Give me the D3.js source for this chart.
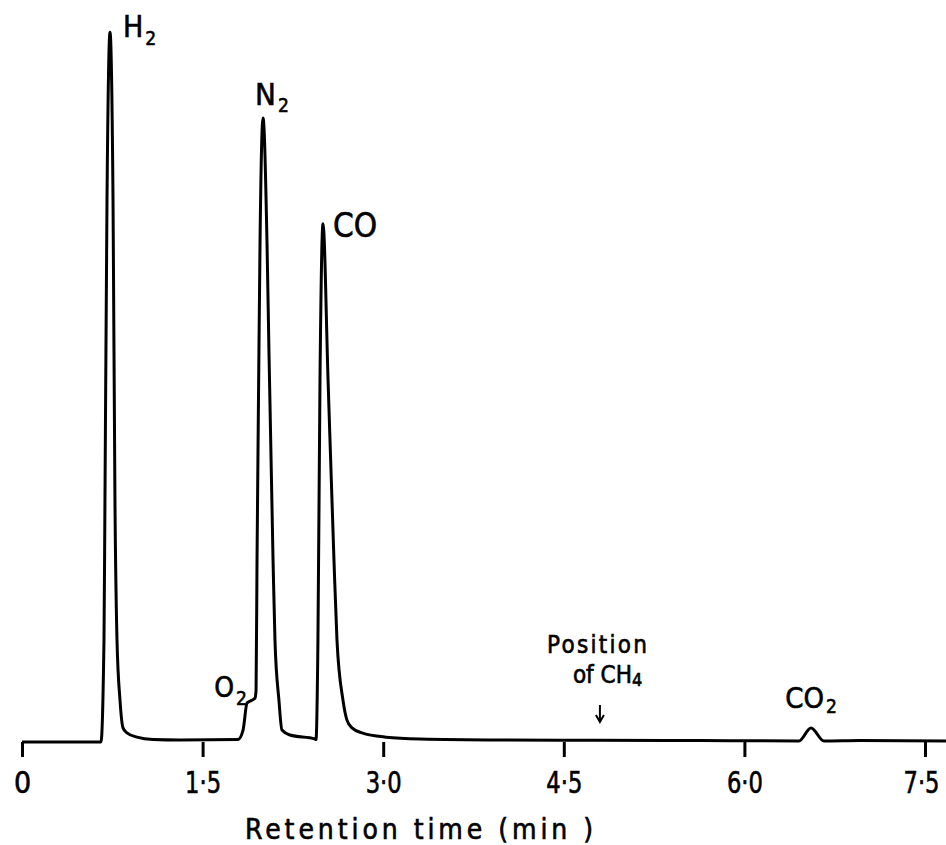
<!DOCTYPE html>
<html>
<head>
<meta charset="utf-8">
<script src="https://cdn.jsdelivr.net/npm/d3@7"></script>
<style>
  html, body { margin: 0; padding: 0; background: #fff; }
  svg { display: block; }
  text { font-family: "DejaVu Sans Condensed", "DejaVu Sans", sans-serif; fill: #000; stroke: #000; stroke-width: 0.6px; }
</style>
</head>
<body>
<div id="chart"></div>
<script>
// ------------------
// Data
// ------------------
const retentionTime = [0.000, 0.648, 0.656, 0.681, 0.689, 0.706, 0.731, 0.756, 0.772, 0.789,
  0.814, 0.839, 0.872, 0.955, 1.088, 1.312, 1.794, 1.836, 1.869, 1.910,
  1.935, 1.944, 1.952, 1.968, 1.977, 2.002, 2.035, 2.051, 2.085, 2.101,
  2.134, 2.159, 2.226, 2.434, 2.442, 2.458, 2.475, 2.500, 2.542, 2.591,
  2.616, 2.666, 2.699, 2.741, 2.824, 3.023, 3.306, 3.970, 5.631, 6.453,
  6.553, 6.661, 6.960, 7.674];
const detectorSignal = [-0.28, -0.28, -0.28, 14.1, 33.8, 76.1, 99.7, 76.1, 33.8, 14.1,
  5.6, 1.7, 1.0, 0.4, 0.07, 0, 0.07, 1.4, 5.2, 5.6,
  5.9, 7.0, 25.4, 54.9, 70.0, 87.6, 70.0, 54.9, 25.4, 14.1,
  5.6, 1.4, 0.7, 0.14, 0.07, 14.1, 50.7, 72.7, 50.7, 25.4,
  14.1, 5.6, 2.8, 1.7, 1.0, 0.4, 0.14, 0, -0.07, -0.14,
  1.7, -0.14, -0.07, -0.14];

const xTicks = [0, 1.5, 3.0, 4.5, 6.0, 7.5];

// peak labels: main text, subscript, retention time of the apex
const peakNames = ["H", "N", "CO", "O", "CO"];
const peakSubs = ["2", "2", "", "2", "2"];
const peakTimes = [0.731, 2.002, 2.500, 1.935, 6.553];

const ch4Time = 4.80;
const axisTitle = "Retention time (min )";

// ------------------
// Layout
// ------------------
const W = 946, H = 845;
const x = d3.scaleLinear().domain([0, 7.5]).range([22, 925]);
const y = d3.scaleLinear().domain([0, 100]).range([740, 30]);

const svg = d3.select("#chart").append("svg")
  .attr("width", W)
  .attr("height", H);

const points = retentionTime.map((t, i) => ({ t, s: detectorSignal[i] }));

// trace
const line = d3.line()
  .x(d => x(d.t))
  .y(d => y(d.s))
  .curve(d3.curveMonotoneX);

svg.append("path")
  .datum(points)
  .attr("d", line)
  .attr("fill", "none")
  .attr("stroke", "#000")
  .attr("stroke-width", 3)
  .attr("stroke-linejoin", "round");

// axis (ticks hang from the baseline, no domain line)
const fmt = d => d === 0 ? "0" : d.toFixed(1).replace(".", "\u00b7");
const axis = svg.append("g")
  .attr("transform", `translate(0,${y(0) + 2})`)
  .call(d3.axisBottom(x).tickValues(xTicks).tickFormat(fmt).tickSize(15).tickPadding(15));

axis.select(".domain").remove();
axis.selectAll(".tick line").attr("stroke", "#000").attr("stroke-width", 3);
axis.selectAll(".tick text")
  .attr("font-size", 30)
  .attr("font-family", null)
  .attr("fill", null)
  .each(function(d) {
    if (d !== 0) d3.select(this).attr("textLength", 36).attr("lengthAdjust", "spacingAndGlyphs");
    // last label sits against the right edge
    if (d === 7.5) d3.select(this).attr("dx", -4);
  });

svg.append("text")
  .attr("x", 245)
  .attr("y", 839)
  .attr("font-size", 28)
  .attr("font-family", "DejaVu Sans")
  .attr("textLength", 348)
  .attr("lengthAdjust", "spacing")
  .text(axisTitle);

// ------------------
// Peak labels
// ------------------
function apex(t) {
  return d3.least(points, p => Math.abs(p.t - t));
}

// offsets in px from the apex, anchor, font size, subscript shift
const labelStyle = [
  { dx: 13, dy: 5, anchor: "start", size: 30, sub: 8 },
  { dx: -8, dy: -13, anchor: "start", size: 31, sub: 7 },
  { dx: 10, dy: 13, anchor: "start", size: 33, sub: 0 },
  { dx: -8, dy: -1, anchor: "end", size: 28, sub: 8 },
  { dx: 0, dy: -20, anchor: "middle", size: 29, sub: 5 }
];

peakNames.forEach((name, i) => {
  const p = apex(peakTimes[i]);
  const st = labelStyle[i];
  const txt = svg.append("text")
    .attr("x", x(p.t) + st.dx)
    .attr("y", y(p.s) + st.dy)
    .attr("font-size", st.size)
    .attr("text-anchor", st.anchor);
  txt.append("tspan").text(name);
  if (peakSubs[i]) {
    txt.append("tspan")
      .attr("dy", st.sub)
      .attr("dx", 2)
      .attr("font-size", 19)
      .text(peakSubs[i]);
  }
});

// ------------------
// Position of CH4 marker
// ------------------
const cx = x(ch4Time);
const by = y(0);

svg.append("text")
  .attr("x", cx - 53)
  .attr("y", by - 87)
  .attr("font-size", 24)
  .attr("textLength", 100)
  .attr("lengthAdjust", "spacing")
  .text("Position");

const of = svg.append("text")
  .attr("x", cx - 27)
  .attr("y", by - 57)
  .attr("font-size", 24);
of.append("tspan").text("of CH");
of.append("tspan").attr("dy", 3).attr("font-size", 18).text("4");

svg.append("path")
  .attr("d", `M${cx},${by - 35}V${by - 18}M${cx - 4},${by - 25}L${cx},${by - 18}L${cx + 4},${by - 25}`)
  .attr("fill", "none")
  .attr("stroke", "#000")
  .attr("stroke-width", 2);
</script>
</body>
</html>
